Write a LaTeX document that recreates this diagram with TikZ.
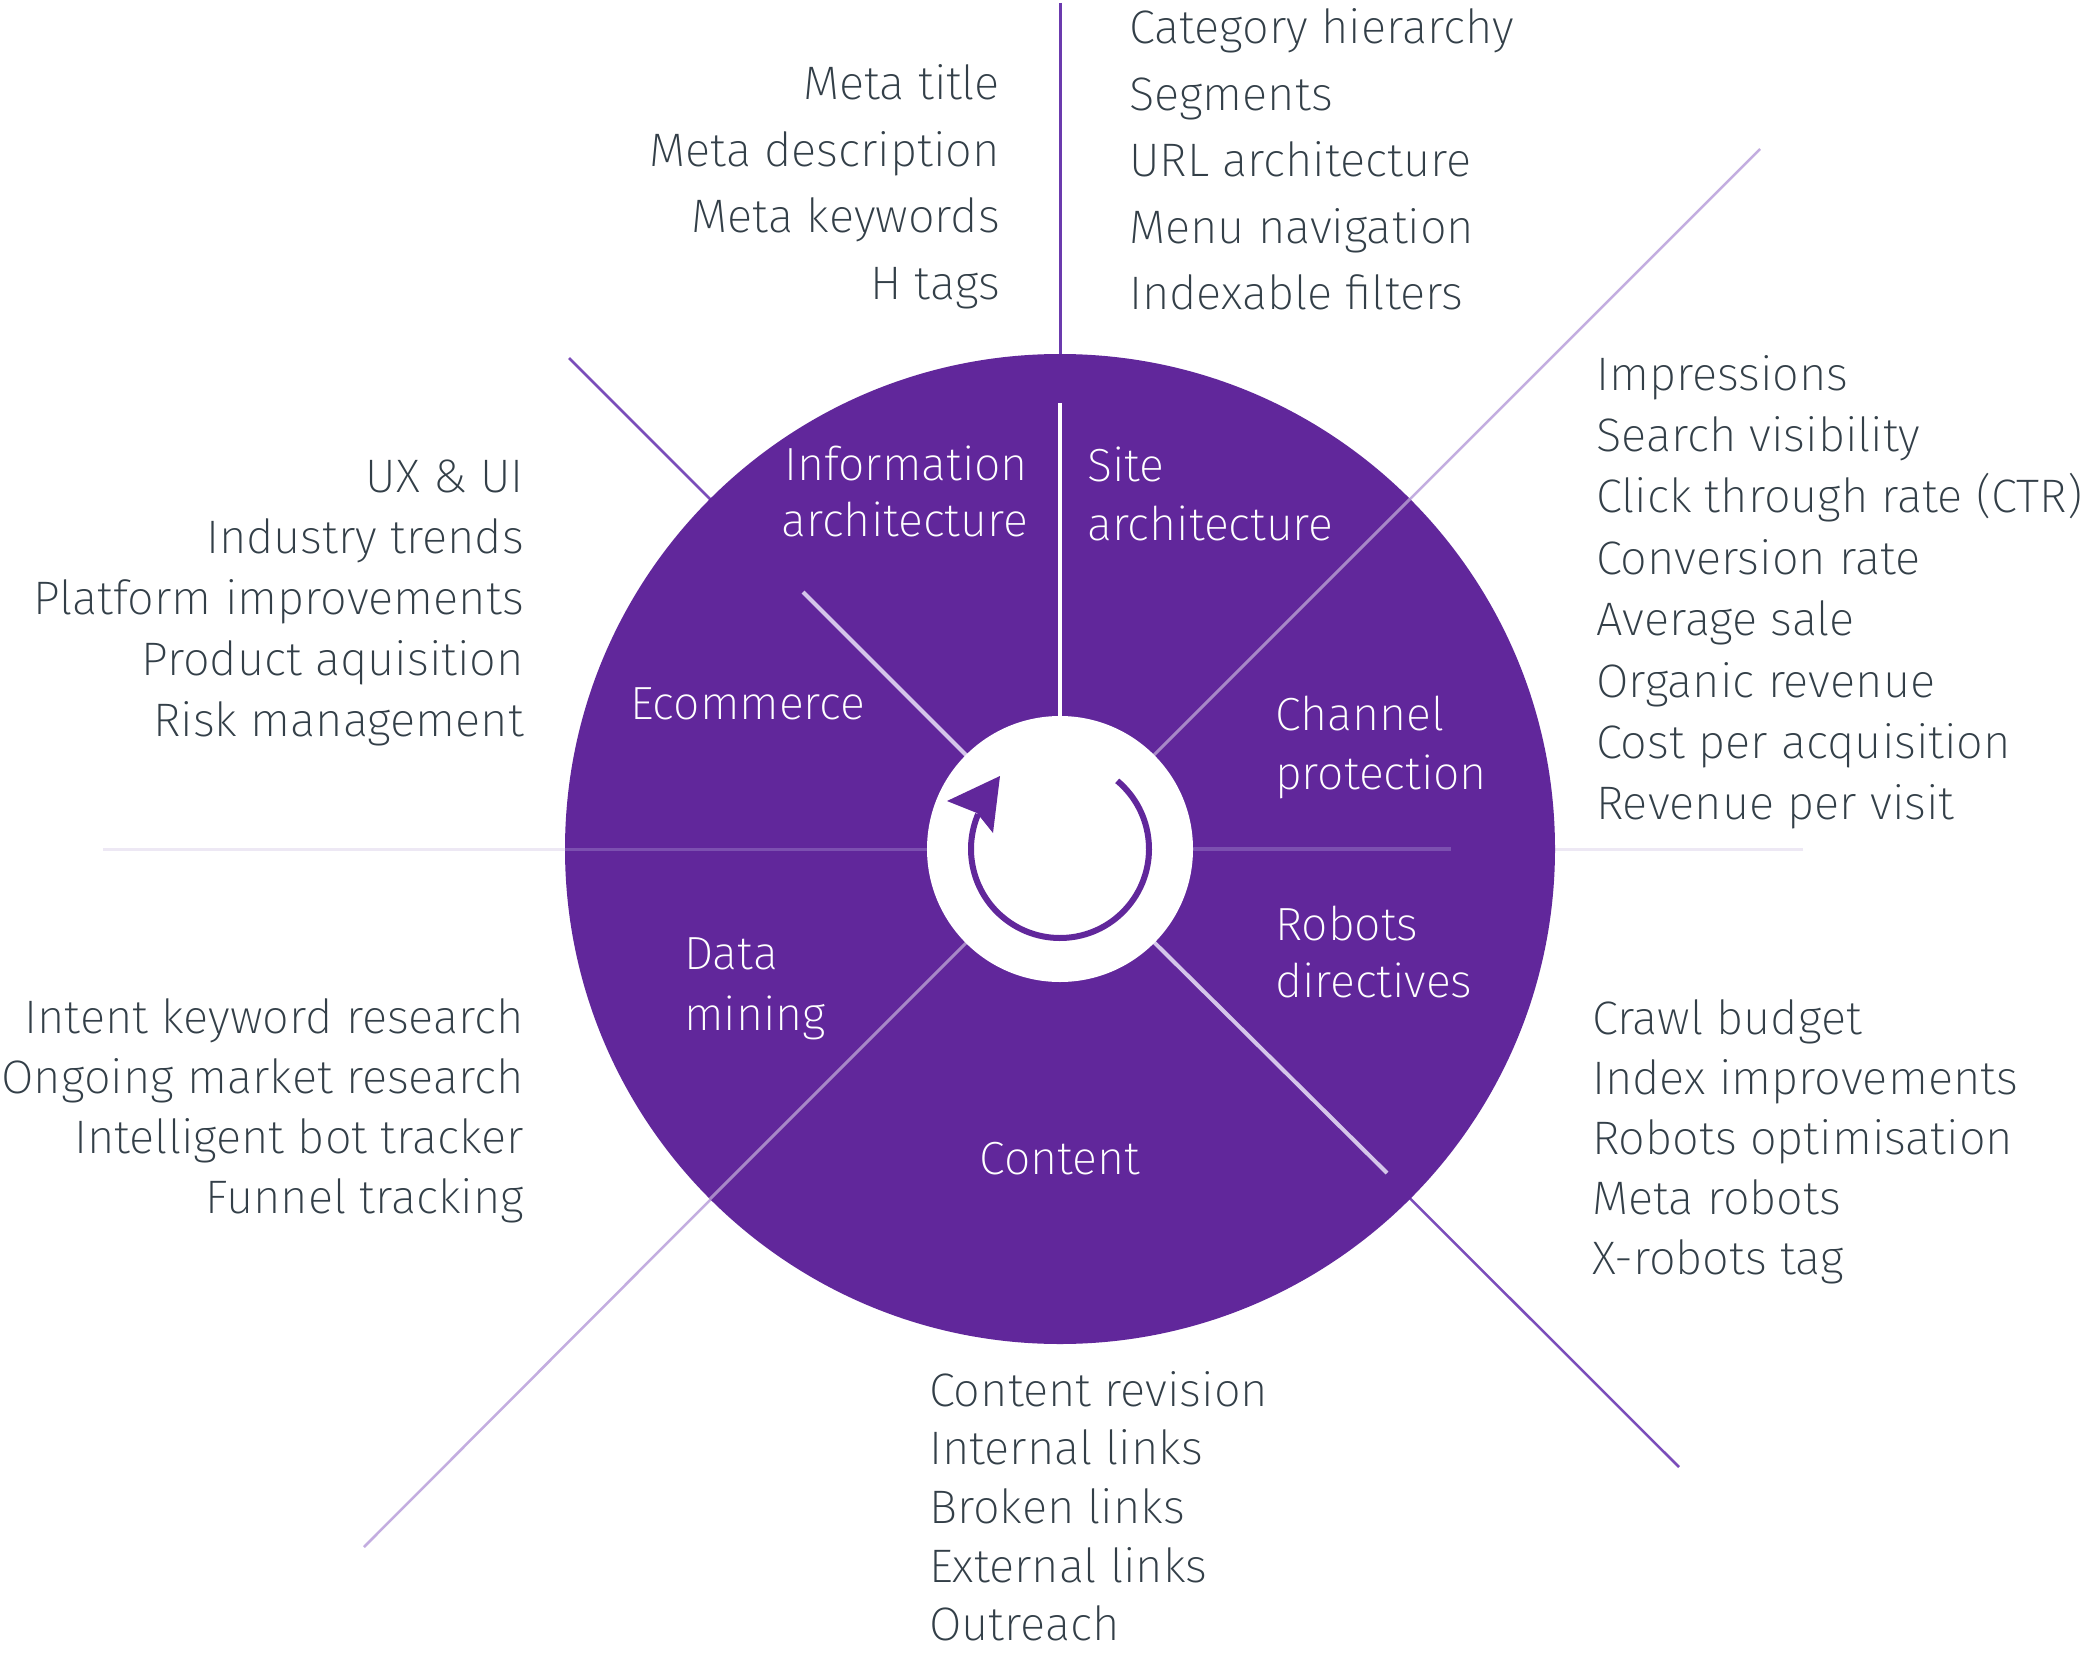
\documentclass[tikz,border=0pt]{standalone}
\usepackage{fontspec}
\IfFontExistsTF{Fira Sans ExtraLight}{\setmainfont{Fira Sans ExtraLight}}{\IfFontExistsTF{Fira Sans Light}{\setmainfont{Fira Sans Light}}{\setmainfont{Fira Sans}}}
\definecolor{wheel}{HTML}{61279B}
\definecolor{ink}{HTML}{333F48}
\definecolor{topline}{HTML}{6B3AAE}
\definecolor{midline}{HTML}{7B4DBA}
\definecolor{lavline}{HTML}{C3ADE0}
\definecolor{paleline}{HTML}{EDE8F4}
\definecolor{inlav}{HTML}{D5C6EA}
\definecolor{inpurp}{HTML}{7C50B0}
\begin{document}
\begin{tikzpicture}[x=1pt,y=-1pt,
  outtext/.style={font=\fontsize{47}{57}\selectfont, text=ink, inner sep=0pt},
  intext/.style={font=\fontsize{46.5}{57}\selectfont, text=white, inner sep=0pt}]
\useasboundingbox (0,0) rectangle (2091,1653);
\fill[white] (0,0) rectangle (2091,1653);
\coordinate (c) at (1060,849);
% spokes outside the wheel
\coordinate (pN) at (1060,3);
\coordinate (pNW) at (569,358);
\coordinate (pNE) at (1760,149);
\coordinate (pE) at (1803,849);
\coordinate (pW) at (103,849);
\coordinate (pSW) at (364,1547);
\coordinate (pSE) at (1679,1467);
\draw[topline, line width=3] (pN) -- (c);
\draw[midline, line width=2.5] (pNW) -- (c);
\draw[lavline, line width=2.5] (pNE) -- (c);
\draw[paleline, line width=3] (pE) -- (c);
\draw[paleline, line width=3] (pW) -- (c);
\draw[lavline, line width=2.5] (pSW) -- (c);
\draw[midline, line width=2.5] (pSE) -- (c);
% the wheel
\fill[wheel] (c) circle[radius=495];
% spokes inside the wheel
\coordinate (qN) at (1060,403);
\coordinate (qNW) at (803,592);
\coordinate (qSE) at (1387,1173);
\coordinate (qE) at (1451,849);
\coordinate (qW) at (565,849);
\coordinate (qNE) at (1410,499);
\coordinate (qSW) at (710,1199);
\draw[white, line width=4] (qN) -- (c);
\draw[inlav, line width=4] (qNW) -- (c);
\draw[inlav, line width=4] (qSE) -- (c);
\draw[inpurp, line width=4] (qE) -- (c);
\draw[inpurp, line width=3] (qW) -- (c);
\draw[white, opacity=0.45, line width=3] (qNE) -- (c);
\draw[white, opacity=0.45, line width=3] (qSW) -- (c);
% hub
\fill[white] (c) circle[radius=133];
\draw[wheel, line width=6] ([shift={(c)}]-50:89) arc[start angle=-50, end angle=203, radius=89];
\coordinate (tip) at (947,801);
\coordinate (cu) at (1000,776);
\coordinate (cl) at (993,833);
\coordinate (nt) at (977,813);
\fill[wheel] (tip) -- (cu) -- (cl) -- (nt) -- cycle;
% inner labels
\node[intext, anchor=base east] (ia1) at (1028,480) {Information};
\node[intext, anchor=base east] (ia2) at (1028,536) {architecture};
\node[intext, anchor=base west] (sa1) at (1087,481) {Site};
\node[intext, anchor=base west] (sa2) at (1087,540) {architecture};
\node[intext, anchor=base west] (cp1) at (1275,730) {Channel};
\node[intext, anchor=base west] (cp2) at (1275,789) {protection};
\node[intext, anchor=base west] (rd1) at (1275,940) {Robots};
\node[intext, anchor=base west] (rd2) at (1275,997) {directives};
\node[intext, anchor=base west] (ec) at (630,719) {Ecommerce};
\node[intext, anchor=base west] (dm1) at (684,969) {Data};
\node[intext, anchor=base west] (dm2) at (684,1030) {mining};
\node[intext, anchor=base] (ct) at (1060,1174) {Content};
% outer lists
\foreach \t [count=\i from 0] in {Meta title, Meta description, Meta keywords, H tags}
  \node[outtext, anchor=base east] (tl\i) at (1000,{100+66.5*\i}) {\t};
\foreach \t [count=\i from 0] in {Category hierarchy, Segments, URL architecture, Menu navigation, Indexable filters}
  \node[outtext, anchor=base west] (tr\i) at (1129,{44+66.5*\i}) {\t};
\foreach \t [count=\i from 0] in {UX \& UI, Industry trends, Platform improvements, Product aquisition, Risk management}
  \node[outtext, anchor=base east] (lf\i) at (524,{492+61.2*\i}) {\t};
\foreach \t [count=\i from 0] in {Impressions, Search visibility, Click through rate (CTR), Conversion rate, Average sale, Organic revenue, Cost per acquisition, Revenue per visit}
  \node[outtext, anchor=base west] (rt\i) at (1596,{390+61.4*\i}) {\t};
\foreach \t [count=\i from 0] in {Crawl budget, Index improvements, Robots optimisation, Meta robots, X-robots tag}
  \node[outtext, anchor=base west] (br\i) at (1592,{1034+60*\i}) {\t};
\foreach \t [count=\i from 0] in {Intent keyword research, Ongoing market research, Intelligent bot tracker, Funnel tracking}
  \node[outtext, anchor=base east] (bl\i) at (524,{1033+60.3*\i}) {\t};
\foreach \t [count=\i from 0] in {Content revision, Internal links, Broken links, External links, Outreach}
  \node[outtext, anchor=base west] (bt\i) at (929,{1406+58.7*\i}) {\t};
\end{tikzpicture}
\end{document}
